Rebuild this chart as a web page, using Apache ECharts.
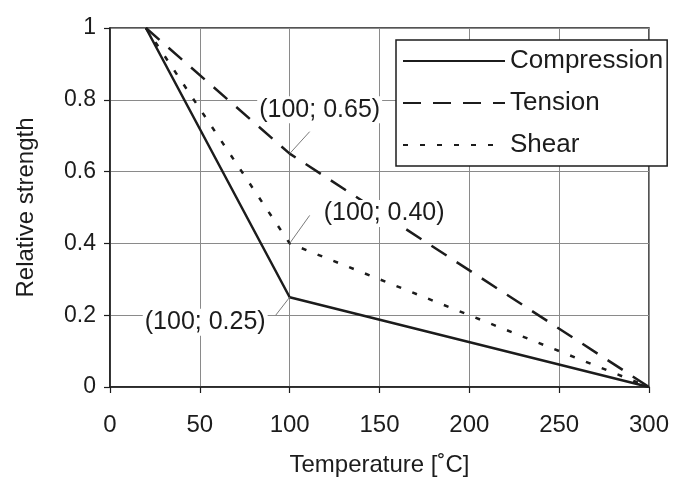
<!DOCTYPE html>
<html><head><meta charset="utf-8">
<script src="https://cdn.jsdelivr.net/npm/echarts@6/dist/echarts.min.js"></script>
<style>html,body{margin:0;padding:0;background:#fff}#c{width:674px;height:478px}</style>
</head><body><div id="c"></div>
<script>
// ---- data ----
const temperature = [20, 100, 300];
const compression = [1, 0.25, 0];
const tension = [1, 0.65, 0];
const shear = [1, 0.40, 0];
const seriesNames = ['Compression', 'Tension', 'Shear'];
const xAxisTitle = 'Temperature [˚C]';
const yAxisTitle = 'Relative strength';
const annX = [100, 100, 100];
const annY = [0.65, 0.40, 0.25];
const annText = ['(100; 0.65)', '(100; 0.40)', '(100; 0.25)'];

// ---- styling / layout ----
const FONT = '"Liberation Sans", Arial, Helvetica, sans-serif';
const INK = '#1c1c1c';
const dashStyles = ['solid', [18, 12], [5, 12]];
const leaderEnd = [[20, -22], [20, -28], [-14, 18]];
const textAnchor = [[30, -44, 'center'], [32, -30, 'left'], [-22, 25, 'right']];

const toPairs = (ys) => temperature.map((t, i) => [t, ys[i]]);
const allValues = [compression, tension, shear];

const chart = echarts.init(document.getElementById('c'), null, {renderer: 'canvas'});
chart.setOption({
  backgroundColor: '#fff',
  animation: false,
  grid: {left: 110, right: 25, top: 28, bottom: 91, outerBoundsMode: 'none', containLabel: false,
    show: true, borderColor: INK, borderWidth: 1.5, backgroundColor: 'transparent'},
  xAxis: {
    type: 'value', min: 0, max: 300, interval: 50,
    name: xAxisTitle, nameLocation: 'middle', nameGap: 66,
    nameTextStyle: {fontFamily: FONT, fontSize: 24, color: INK},
    axisLine: {show: true, lineStyle: {color: INK, width: 1.5}},
    axisTick: {show: true, length: 6, lineStyle: {color: INK, width: 1.2}},
    axisLabel: {fontFamily: FONT, fontSize: 24, color: INK, margin: 26},
    splitLine: {show: true, lineStyle: {color: '#8a8a8a', width: 1}}
  },
  yAxis: {
    type: 'value', min: 0, max: 1, interval: 0.2,
    name: yAxisTitle, nameLocation: 'middle', nameGap: 72, nameRotate: 90,
    nameTextStyle: {fontFamily: FONT, fontSize: 24, color: INK},
    axisLine: {show: true, lineStyle: {color: INK, width: 1.5}},
    axisTick: {show: true, length: 6, lineStyle: {color: INK, width: 1.2}},
    axisLabel: {fontFamily: FONT, fontSize: 23, color: INK, margin: 14,
      formatter: v => (v === 0 || v === 1) ? String(v) : v.toFixed(1)},
    splitLine: {show: true, lineStyle: {color: '#8a8a8a', width: 1}}
  },
  legend: {
    show: true, orient: 'vertical', left: 396, top: 40,
    width: 262, padding: [8, 4, 8, 6], itemGap: 16,
    itemWidth: 102, itemHeight: 26,
    backgroundColor: '#fff', borderColor: INK, borderWidth: 1.5, borderRadius: 0,
    itemStyle: {color: 'transparent', borderColor: 'transparent', borderWidth: 0},
    textStyle: {fontFamily: FONT, fontSize: 26, color: INK, padding: [0, 0, 0, 0]},
    data: seriesNames
  },
  series: seriesNames.map((n, i) => ({
    name: n, type: 'line', data: toPairs(allValues[i]), symbol: 'none', z: 3,
    lineStyle: {color: INK, width: 2.5, type: dashStyles[i]},
    itemStyle: {color: INK}
  }))
});

function drawAnnotations() {
  const g = [];
  for (let i = 0; i < annX.length; i++) {
    const p = chart.convertToPixel({gridIndex: 0}, [annX[i], annY[i]]);
    const le = leaderEnd[i], ta = textAnchor[i];
    g.push({type: 'line', z: 10, shape: {x1: p[0], y1: p[1], x2: p[0] + le[0], y2: p[1] + le[1]},
      style: {stroke: '#7a7a7a', lineWidth: 1}});
    g.push({type: 'text', z: 11, x: p[0] + ta[0], y: p[1] + ta[1],
      style: {text: annText[i], font: '25px ' + FONT, fill: INK, align: ta[2], verticalAlign: 'middle',
        backgroundColor: '#fff', padding: [1, 2]}});
  }
  chart.setOption({graphic: g});
}
drawAnnotations();
</script>
</body></html>
